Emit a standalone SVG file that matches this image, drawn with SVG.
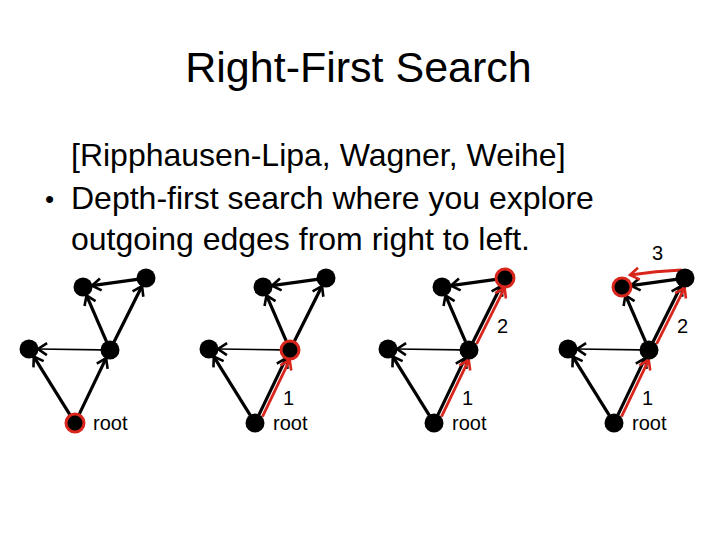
<svg xmlns="http://www.w3.org/2000/svg" width="720" height="540" viewBox="0 0 720 540">
<defs>
<style>
text{font-family:"Liberation Sans",Arial,sans-serif;fill:#000}
.title{font-size:43px}
.body{font-size:32px}
.bul{font-size:26px}
.lbl{font-size:20px}
.e{stroke:#000;stroke-width:3.2;fill:none;marker-end:url(#ah)}
.thin{stroke-width:1.6}
.r{stroke:#d9261c;stroke-width:2.8;fill:none;marker-end:url(#ahr)}
.n{fill:#000}
.hl{fill:#000;stroke:#d9261c;stroke-width:3}
</style>
<marker id="ah" viewBox="-12 -8 14 16" markerWidth="14" markerHeight="16" refX="0" refY="0" orient="auto" markerUnits="userSpaceOnUse">
<path d="M-9,-6 L0,0 L-9,6" fill="none" stroke="#000" stroke-width="2.6"/>
</marker>
<marker id="ahr" viewBox="-12 -8 14 16" markerWidth="14" markerHeight="16" refX="0" refY="0" orient="auto" markerUnits="userSpaceOnUse">
<path d="M-9,-6 L0,0 L-9,6" fill="none" stroke="#d9261c" stroke-width="2.6"/>
</marker>
</defs>
<rect width="720" height="540" fill="#fff"/>
<text class="title" x="358.5" y="82" text-anchor="middle">Right-First Search</text>
<text class="body" x="71" y="166">[Ripphausen-Lipa, Wagner, Weihe]</text>
<text class="bul" x="45" y="208">•</text>
<text class="body" x="71" y="209">Depth-first search where you explore</text>
<text class="body" x="71" y="250">outgoing edges from right to left.</text>

<g id="connectors">
<g transform="translate(75,423)">
<path class="e" d="M-4.7,-7.6 L-41.2,-66.4"/>
<path class="e" d="M3.9,-8.1 L31.1,-64.9"/>
<path class="e thin" d="M26,-73.1 L-37,-74"/>
<path class="e" d="M31.5,-81.3 L11.5,-127.7"/>
<path class="e" d="M39,-81 L67,-137"/>
<path class="e" d="M62.1,-143.7 L16.9,-137.3"/>
</g>
<g transform="translate(255,423)">
<path class="e" d="M-4.7,-7.6 L-41.2,-66.4"/>
<path class="e" d="M3.9,-8.1 L31.1,-64.9"/>
<path class="e thin" d="M26,-73.1 L-37,-74"/>
<path class="e" d="M31.5,-81.3 L11.5,-127.7"/>
<path class="e" d="M39,-81 L67,-137"/>
<path class="e" d="M62.1,-143.7 L16.9,-137.3"/>
<path class="r" d="M7.5,-6.4 L34.7,-63.2"/>
</g>
<g transform="translate(434,423)">
<path class="e" d="M-4.7,-7.6 L-41.2,-66.4"/>
<path class="e" d="M3.9,-8.1 L31.1,-64.9"/>
<path class="e thin" d="M26,-73.1 L-37,-74"/>
<path class="e" d="M31.5,-81.3 L11.5,-127.7"/>
<path class="e" d="M39,-81 L67,-137"/>
<path class="e" d="M62.1,-143.7 L16.9,-137.3"/>
<path class="r" d="M7.5,-6.4 L34.7,-63.2"/>
<path class="r" d="M42.6,-79.2 L70.6,-135.2"/>
</g>
<g transform="translate(614,423)">
<path class="e" d="M-4.7,-7.6 L-41.2,-66.4"/>
<path class="e" d="M3.9,-8.1 L31.1,-64.9"/>
<path class="e thin" d="M26,-73.1 L-37,-74"/>
<path class="e" d="M31.5,-81.3 L11.5,-127.7"/>
<path class="e" d="M39,-81 L67,-137"/>
<path class="e" d="M62.1,-143.7 L16.9,-137.3"/>
<path class="r" d="M7.5,-6.4 L34.7,-63.2"/>
<path class="r" d="M42.6,-79.2 L70.6,-135.2"/>
<path class="r" d="M67.7,-153 Q42,-152 16,-148"/>
</g>
</g>

<g id="graph1" transform="translate(75,423)">
<g id="g1-root"><circle class="hl" cx="0" cy="0" r="9"/></g>
<g id="g1-mid"><circle class="n" cx="35" cy="-73" r="9.5"/></g>
<g id="g1-left"><circle class="n" cx="-46" cy="-74" r="9.5"/></g>
<g id="g1-tl"><circle class="n" cx="8" cy="-136" r="9.5"/></g>
<g id="g1-tr"><circle class="n" cx="71" cy="-145" r="9.5"/></g>
<text class="lbl" x="18" y="7">root</text>
</g>
<g id="graph2" transform="translate(255,423)">
<g id="g2-root"><circle class="n" cx="0" cy="0" r="9.5"/></g>
<g id="g2-mid"><circle class="hl" cx="35" cy="-73" r="9"/></g>
<g id="g2-left"><circle class="n" cx="-46" cy="-74" r="9.5"/></g>
<g id="g2-tl"><circle class="n" cx="8" cy="-136" r="9.5"/></g>
<g id="g2-tr"><circle class="n" cx="71" cy="-145" r="9.5"/></g>
<text class="lbl" x="18" y="7">root</text>
<text class="lbl" x="28" y="-18">1</text>
</g>
<g id="graph3" transform="translate(434,423)">
<g id="g3-root"><circle class="n" cx="0" cy="0" r="9.5"/></g>
<g id="g3-mid"><circle class="n" cx="35" cy="-73" r="9.5"/></g>
<g id="g3-left"><circle class="n" cx="-46" cy="-74" r="9.5"/></g>
<g id="g3-tl"><circle class="n" cx="8" cy="-136" r="9.5"/></g>
<g id="g3-tr"><circle class="hl" cx="71" cy="-145" r="9"/></g>
<text class="lbl" x="18" y="7">root</text>
<text class="lbl" x="28" y="-18">1</text>
<text class="lbl" x="63" y="-90">2</text>
</g>
<g id="graph4" transform="translate(614,423)">
<g id="g4-root"><circle class="n" cx="0" cy="0" r="9.5"/></g>
<g id="g4-mid"><circle class="n" cx="35" cy="-73" r="9.5"/></g>
<g id="g4-left"><circle class="n" cx="-46" cy="-74" r="9.5"/></g>
<g id="g4-tl"><circle class="hl" cx="8" cy="-136" r="9"/></g>
<g id="g4-tr"><circle class="n" cx="71" cy="-145" r="9.5"/></g>
<text class="lbl" x="18" y="7">root</text>
<text class="lbl" x="28" y="-18">1</text>
<text class="lbl" x="63" y="-90">2</text>
<text class="lbl" x="38" y="-163">3</text>
</g>
</svg>
